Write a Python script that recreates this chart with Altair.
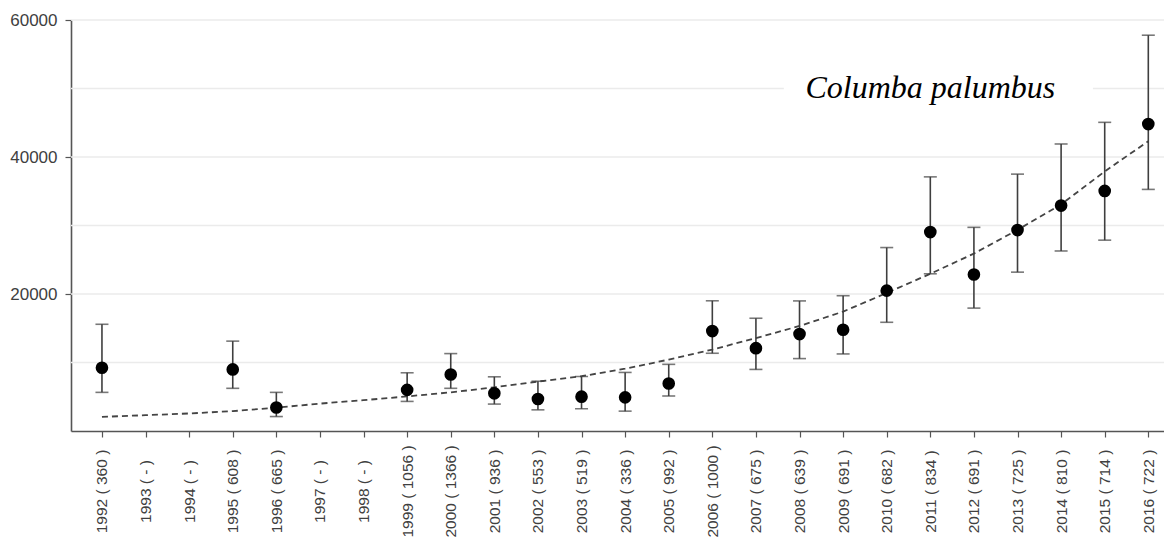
import altair as alt
import pandas as pd

# ---- data ----
years = list(range(1992, 2017))
counts = ["360", "-", "-", "608", "665", "-", "-", "1056", "1366", "936", "553",
          "519", "336", "992", "1000", "675", "639", "691", "682", "834", "691",
          "725", "810", "714", "722"]
index_vals = [9240, None, None, 8990, 3430, None, None, 6000, 8250, 5500, 4670,
              5010, 4910, 6930, 14590, 12090, 14150, 14780, 20490, 29040, 22850,
              29330, 32910, 35050, 44810]
upper_vals = [15580, None, None, 13120, 5640, None, None, 8500, 11300, 7910, 7270,
              7960, 8550, 9730, 19010, 16460, 18990, 19750, 26780, 37100, 29730,
              37500, 41900, 45060, 57780]
lower_vals = [5640, None, None, 6230, 2110, None, None, 4320, 6230, 3930, 3090,
              3240, 2900, 5110, 11350, 8990, 10570, 11250, 15870, 22950, 17940,
              23190, 26280, 27860, 35270]
trend_vals = [2060, 2310, 2560, 2900, 3400, 4000, 4500, 5050, 5640, 6380, 7220,
              8000, 9090, 10420, 11890, 13560, 15330, 17430, 20150, 22950, 25900,
              29360, 33080, 37890, 42310]
y_ticks = [20000, 40000, 60000]
grid_vals = [10000, 20000, 30000, 40000, 50000, 60000]
species = ["Columba palumbus"]
species_x = [2011]
species_y = [48640]
box_x = [2007.64]
box_x2 = [2014.73]
box_y = [47000]
box_y2 = [53000]

labels = [f"{y} ( {c} )" for y, c in zip(years, counts)]
label_expr = "[" + ",".join("'" + l + "'" for l in labels) + "][round(datum.value) - 1992]"

df = pd.DataFrame({"year": years, "idx": index_vals, "up": upper_vals,
                   "lo": lower_vals, "trend": trend_vals})
pts = df.dropna(subset=["idx"])

XDOM = [1991.29, 2016.36]
YDOM = [0, 60000]
AX = "#555555"
TXT = "#404040"
BAR = "#3f3f3f"

x_axis = alt.Axis(values=years, labelExpr=label_expr, labelAngle=270,
                  labelAlign="center", labelBaseline="middle", labelPadding=54,
                  tickSize=6, labelFontSize=15.5, labelColor=TXT,
                  labelFont="Liberation Sans", title=None, grid=False,
                  labelOverlap=False, labelFlush=False, domainColor=AX,
                  domainWidth=1.6, tickColor=AX, tickWidth=1.2)
y_axis = alt.Axis(values=y_ticks, format="d", tickSize=6, labelPadding=8,
                  labelFontSize=17, labelColor=TXT, labelFont="Liberation Sans",
                  title=None, grid=False, domainColor=AX, domainWidth=1.6,
                  tickColor=AX, tickWidth=1.2)


def X(f):
    return alt.X(f, scale=alt.Scale(domain=XDOM, nice=False, zero=False), axis=x_axis)


def Y(f):
    return alt.Y(f, scale=alt.Scale(domain=YDOM, nice=False), axis=y_axis)


grid = alt.Chart(pd.DataFrame({"g": grid_vals})).mark_rule(
    color="#ebebeb", strokeWidth=1.4).encode(y=Y("g:Q"))

box = alt.Chart(pd.DataFrame({"bx": box_x, "bx2": box_x2, "by": box_y, "by2": box_y2})
                ).mark_rect(fill="white").encode(x=X("bx:Q"), x2="bx2", y=Y("by:Q"), y2="by2")

trend = alt.Chart(df).mark_line(color="#444444", strokeWidth=1.8,
                                strokeDash=[6, 4]).encode(x=X("year:Q"), y=Y("trend:Q"))

bars = alt.Chart(pts).mark_rule(color=BAR, strokeWidth=1.6).encode(
    x=X("year:Q"), y=Y("lo:Q"), y2="up")
cap_up = alt.Chart(pts).mark_tick(orient="horizontal", size=13, thickness=1.6,
                                  color=BAR).encode(x=X("year:Q"), y=Y("up:Q"))
cap_lo = alt.Chart(pts).mark_tick(orient="horizontal", size=13, thickness=1.6,
                                  color=BAR).encode(x=X("year:Q"), y=Y("lo:Q"))
points = alt.Chart(pts).mark_circle(size=160, color="black", opacity=1).encode(
    x=X("year:Q"), y=Y("idx:Q"))

title = alt.Chart(pd.DataFrame({"t": species, "tx": species_x, "ty": species_y})
                  ).mark_text(font="Liberation Serif", fontStyle="italic", fontSize=32,
                              align="center", baseline="alphabetic", color="black"
                              ).encode(x=X("tx:Q"), y=Y("ty:Q"), text="t:N")

chart = alt.layer(grid, box, trend, bars, cap_up, cap_lo, points, title).properties(
    width=1093, height=411,
    autosize=alt.AutoSizeParams(type="none"),
    padding={"left": 63, "top": 12, "right": 0, "bottom": 108},
    background="white",
).configure_view(stroke=None)

chart.save("out.html", embed_options={"renderer": "svg", "actions": False})
